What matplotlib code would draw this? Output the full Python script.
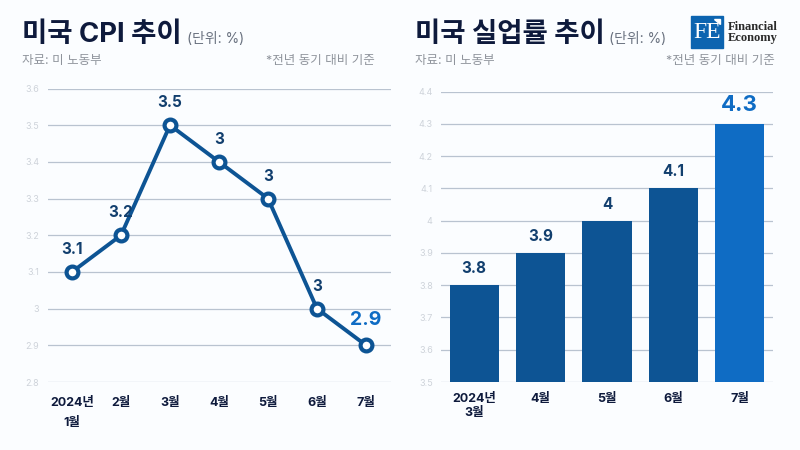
import matplotlib
matplotlib.use("Agg")
import matplotlib.pyplot as plt
from matplotlib.patches import Rectangle, Polygon

plt.rcParams['font.family'] = ['Inter', 'Noto Sans CJK KR', 'DejaVu Sans']

W, H = 800, 450
BG = '#fbfdff'
DARK = '#0d5494'
BRIGHT = '#0f6cc4'
NAVY = '#0e1a3c'

cpi_months = ['2024년\n1월', '2월', '3월', '4월', '5월', '6월', '7월']
cpi_values = [3.1, 3.2, 3.5, 3.4, 3.3, 3.0, 2.9]
cpi_labels = ['3.1', '3.2', '3.5', '3', '3', '3', '2.9']
cpi_ticks = [2.8, 2.9, 3.0, 3.1, 3.2, 3.3, 3.4, 3.5, 3.6]

job_months = ['2024년\n3월', '4월', '5월', '6월', '7월']
job_values = [3.8, 3.9, 4.0, 4.1, 4.3]
job_labels = ['3.8', '3.9', '4', '4.1', '4.3']
job_ticks = [3.5, 3.6, 3.7, 3.8, 3.9, 4.0, 4.1, 4.2, 4.3, 4.4]


def make_axes(fig, left, right, top, bottom):
    ax = fig.add_axes([left / W, 1 - bottom / H, (right - left) / W, (bottom - top) / H])
    ax.set_facecolor('none')
    for s in ax.spines.values():
        s.set_visible(False)
    ax.tick_params(length=0)
    ax.set_axisbelow(True)
    ax.grid(axis='y', color='#b9c3d0', linewidth=0.9)
    return ax


def set_ticks(ax, ticks, months, ypad):
    ax.set_yticks(ticks)
    ax.set_yticklabels([f'{t:g}' for t in ticks], fontsize=6.5, color='#ced3da')
    ax.set_ylim(ticks[0], ticks[-1])
    ax.set_xticks(range(len(months)))
    ax.set_xticklabels(months, fontsize=9, fontweight='bold', color=NAVY)
    ax.set_xlim(-0.5, len(months) - 0.5)
    ax.tick_params(axis='x', pad=ypad)
    ax.tick_params(axis='y', pad=6)


def px_text(fig, x, y, s, **kw):
    kw.setdefault('va', 'center')
    return fig.text(x / W, 1 - y / H, s, **kw)


fig = plt.figure(figsize=(W / 100, H / 100), dpi=100, facecolor=BG)

# left: line chart
ax1 = make_axes(fig, 47.5, 390.5, 88.5, 382)
set_ticks(ax1, cpi_ticks, cpi_months, 10.5)
for lbl in ax1.get_xticklabels():
    lbl.set_linespacing(1.95)
xs = list(range(len(cpi_values)))
ax1.plot(xs, cpi_values, color=DARK, linewidth=2.8, marker='o', markersize=8.5,
         markerfacecolor='white', markeredgecolor=DARK, markeredgewidth=3, zorder=3, clip_on=False)
for i, (v, s) in enumerate(zip(cpi_values, cpi_labels)):
    last = i == len(cpi_values) - 1
    ax1.annotate(s, (i, v), xytext=(0, 16 if last else 15), textcoords='offset pixels',
                 ha='center', va='bottom', fontweight='bold',
                 fontsize=14 if last else 11, color=BRIGHT if last else '#123f6e')

# right: bars
ax2 = make_axes(fig, 441, 773, 91.5, 382)
set_ticks(ax2, job_ticks, job_months, 8)
for lbl in ax2.get_xticklabels():
    lbl.set_linespacing(1.2)
colors = [DARK] * 4 + [BRIGHT]
base = job_ticks[0]
ax2.bar(range(len(job_values)), [v - base for v in job_values], bottom=base, width=0.74, color=colors, zorder=2)
for i, (v, s) in enumerate(zip(job_values, job_labels)):
    last = i == len(job_values) - 1
    ax2.annotate(s, (i, v), xytext=(0, 9), textcoords='offset pixels', ha='center', va='bottom',
                 fontweight='bold', fontsize=16 if last else 11, color=BRIGHT if last else '#123f6e')

# titles
px_text(fig, 22, 35, '미국 CPI 추이', fontsize=19.8, fontweight='bold', color=NAVY)
px_text(fig, 187, 39, '(단위: %)', fontsize=10, color='#6a7280')
px_text(fig, 22, 61, '자료: 미 노동부', fontsize=9, color='#8f949c')
px_text(fig, 375, 61, '*전년 동기 대비 기준', fontsize=9, color='#8f949c', ha='right')

px_text(fig, 415, 35, '미국 실업률 추이', fontsize=19.8, fontweight='bold', color=NAVY)
px_text(fig, 609, 39, '(단위: %)', fontsize=10, color='#6a7280')
px_text(fig, 415, 61, '자료: 미 노동부', fontsize=9, color='#8f949c')
px_text(fig, 775, 61, '*전년 동기 대비 기준', fontsize=9, color='#8f949c', ha='right')

# logo
fig.add_artist(Rectangle((691 / W, 1 - 48 / H), 32 / W, 32 / H, transform=fig.transFigure, color='#0c64b0'))
px_text(fig, 707, 33, 'FE', fontsize=17, family='Liberation Serif', color='white', ha='center')
fig.add_artist(Polygon([(714 / W, 1 - 19 / H), (720 / W, 1 - 19 / H), (720 / W, 1 - 24 / H)],
                       transform=fig.transFigure, color='white'))
px_text(fig, 728, 27, 'Financial', fontsize=9, family='Liberation Serif', fontweight='bold', color='#2a2a2a')
px_text(fig, 728, 38, 'Economy', fontsize=9, family='Liberation Serif', fontweight='bold', color='#2a2a2a')

fig.savefig('out.png', dpi=100, facecolor=BG)
